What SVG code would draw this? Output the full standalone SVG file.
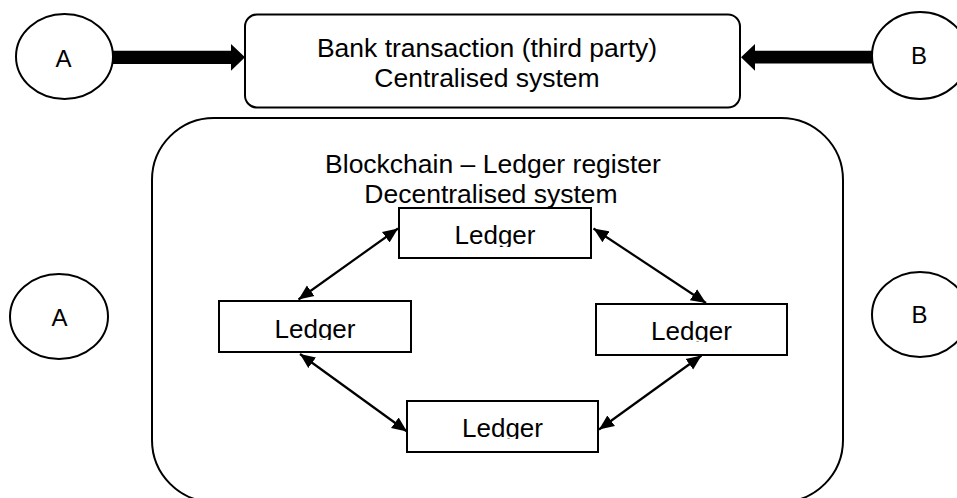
<svg xmlns="http://www.w3.org/2000/svg" width="957" height="498" viewBox="0 0 957 498">
<style>
.shape{fill:#fff;stroke:#000;stroke-width:2}
.txt{font-family:"Liberation Sans",Arial,sans-serif;fill:#000;text-anchor:middle}
.big{font-size:26.5px}
.led{font-size:26px}
.ab{font-size:24px}
.link{stroke:#000;stroke-width:2.2;fill:none}
.thick{fill:#000;stroke:none}
</style>
<defs>
<marker id="ah" markerUnits="userSpaceOnUse" markerWidth="16" markerHeight="14" refX="15" refY="7" orient="auto-start-reverse" viewBox="0 0 16 14">
<path d="M0,0.5 L15,7 L0,13.5 Z" fill="#000"/>
</marker>
<clipPath id="c1"><rect x="399" y="208" width="192" height="39"/></clipPath>
<clipPath id="c2"><rect x="219" y="301" width="192" height="39"/></clipPath>
<clipPath id="c3"><rect x="596" y="304" width="191" height="38"/></clipPath>
<clipPath id="c4"><rect x="407" y="401" width="191" height="38"/></clipPath>
</defs>

<g id="blockchain">
<rect class="shape" x="152" y="118" width="691" height="384" rx="62" ry="62"/>
<text class="txt big" x="493" y="173">Blockchain – Ledger register</text>
<text class="txt big" x="491" y="203">Decentralised system</text>
</g>

<g id="bank">
<rect class="shape" x="245" y="14.5" width="495" height="93" rx="12" ry="12"/>
<text class="txt big" x="487" y="57">Bank transaction (third party)</text>
<text class="txt big" x="487" y="87">Centralised system</text>
</g>

<g id="a-top">
<ellipse class="shape" cx="64.5" cy="56.5" rx="48.5" ry="42.5"/>
<text class="txt ab" x="63.5" y="67">A</text>
</g>
<g id="b-top">
<ellipse class="shape" cx="920" cy="55.5" rx="48" ry="43.5"/>
<text class="txt ab" x="919" y="64">B</text>
</g>
<g id="a-bottom">
<ellipse class="shape" cx="59" cy="316.5" rx="49" ry="42.5"/>
<text class="txt ab" x="59.5" y="326">A</text>
</g>
<g id="b-bottom">
<ellipse class="shape" cx="920" cy="314.5" rx="48" ry="42.5"/>
<text class="txt ab" x="919.5" y="323">B</text>
</g>

<g id="ledger-top">
<rect class="shape" x="399" y="208" width="192" height="50"/>
<text class="txt led" x="495" y="244" clip-path="url(#c1)">Ledger</text>
</g>
<g id="ledger-left">
<rect class="shape" x="219" y="301" width="192" height="51"/>
<text class="txt led" x="315" y="338" clip-path="url(#c2)">Ledger</text>
</g>
<g id="ledger-right">
<rect class="shape" x="596" y="304" width="191" height="51"/>
<text class="txt led" x="691.5" y="340" clip-path="url(#c3)">Ledger</text>
</g>
<g id="ledger-bottom">
<rect class="shape" x="407" y="401" width="191" height="51"/>
<text class="txt led" x="502.5" y="437" clip-path="url(#c4)">Ledger</text>
</g>

<g id="connectors">
<polygon class="thick" points="113,50.8 231,50.8 231,44 245,57.3 231,70.7 231,64 113,64"/>
<polygon class="thick" points="872,50.8 755,50.8 755,44 741,57.3 755,70.7 755,63.5 872,63.5"/>
<line class="link" x1="298.5" y1="299.5" x2="398" y2="228.5" marker-start="url(#ah)" marker-end="url(#ah)"/>
<line class="link" x1="593.5" y1="228.5" x2="706" y2="303" marker-start="url(#ah)" marker-end="url(#ah)"/>
<line class="link" x1="300" y1="354" x2="407" y2="431.5" marker-start="url(#ah)" marker-end="url(#ah)"/>
<line class="link" x1="701.5" y1="355.5" x2="599" y2="429.5" marker-start="url(#ah)" marker-end="url(#ah)"/>
</g>
</svg>
